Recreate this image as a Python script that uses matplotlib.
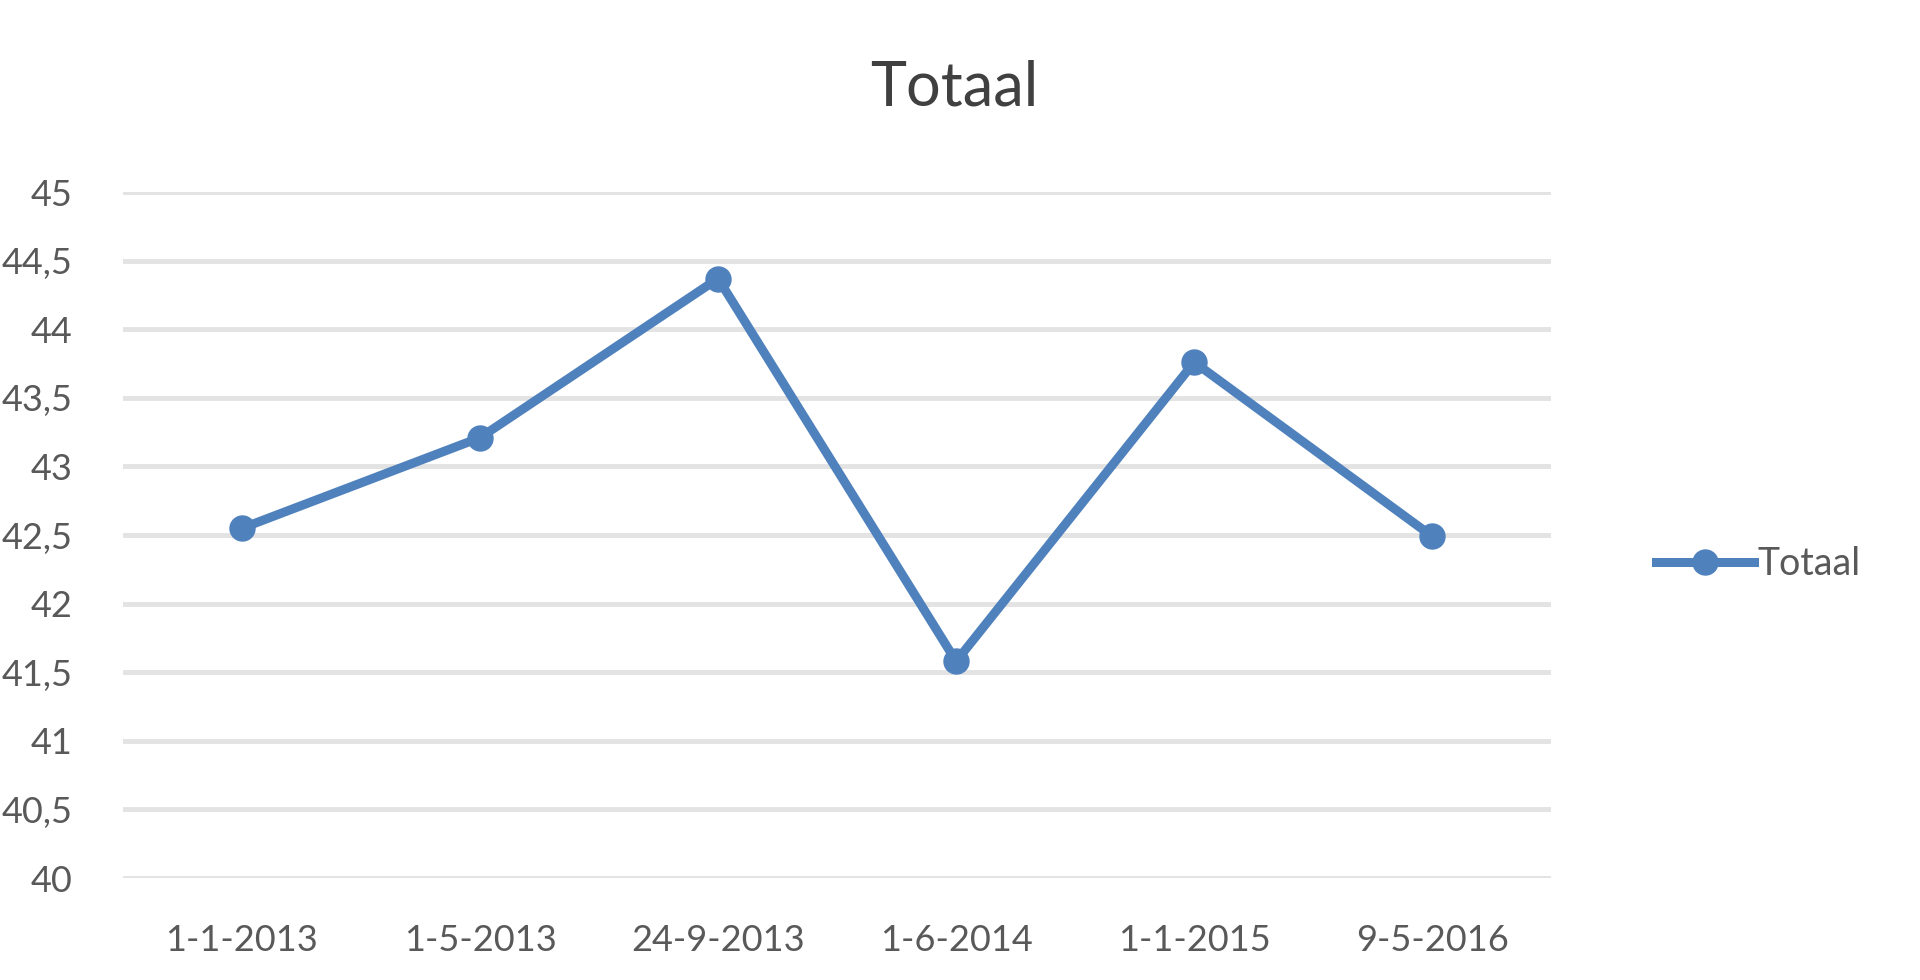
import matplotlib.pyplot as plt
from matplotlib.ticker import FuncFormatter

# data
dates = ['1-1-2013', '1-5-2013', '24-9-2013', '1-6-2014', '1-1-2015', '9-5-2016']
totaal = [42.55, 43.21, 44.37, 41.58, 43.76, 42.49]
y_ticks = [40, 40.5, 41, 41.5, 42, 42.5, 43, 43.5, 44, 44.5, 45]

plt.rcParams['font.family'] = ['Lato', 'DejaVu Sans']
text_col = '#595959'
line_col = '#4F81BD'

fig = plt.figure(figsize=(19.2, 9.8), dpi=100)
ax = fig.add_axes([0.064, 0.104, 0.744, 0.700])

x = range(len(dates))
ax.plot(x, totaal, '-o', color=line_col, lw=6.5, ms=18, label='Totaal', zorder=3)

ax.set_xlim(-0.5, len(dates) - 0.5)
ax.set_ylim(40, 45)
ax.set_yticks(y_ticks)
ax.yaxis.set_major_formatter(FuncFormatter(lambda v, p: ('%g' % v).replace('.', ',')))
ax.set_xticks(list(x))
ax.set_xticklabels(dates)

ax.grid(axis='y', color='#E3E3E3', lw=3.5)
ax.set_axisbelow(True)
for s in ax.spines.values():
    s.set_visible(False)
ax.tick_params(axis='both', length=0, labelsize=26, colors=text_col)
ax.tick_params(axis='y', pad=36)
ax.tick_params(axis='x', pad=33)

fig.text(0.497, 0.91, 'Totaal', ha='center', va='center', fontsize=44, color='#404040')

leg = ax.legend(loc='center left', bbox_to_anchor=(0.845, 0.424), bbox_transform=fig.transFigure,
                frameon=False, fontsize=27, handlelength=2.6, handletextpad=0.1)
for t in leg.get_texts():
    t.set_color(text_col)

fig.savefig('out.png', dpi=100)
